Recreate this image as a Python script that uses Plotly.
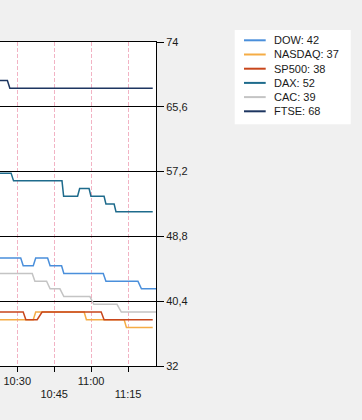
import plotly.graph_objects as go

DAY = "2024-01-02 "

names = ["DOW", "NASDAQ", "SP500", "DAX", "CAC", "FTSE"]
colors = ["#4a8fdb", "#f5ac45", "#c8461b", "#1e6b8c", "#c4c4c4", "#1d3560"]

dow_t = ["10:22:00", "10:31:25", "10:32:25", "10:36:30", "10:37:30", "10:42:20", "10:43:20",
         "10:48:00", "10:48:55", "11:04:55", "11:06:00", "11:19:00", "11:20:25", "11:27:00"]
dow_v = [46, 46, 45, 45, 46, 46, 45, 45, 44, 44, 43, 43, 42, 42]

nasdaq_t = ["10:22:00", "10:36:30", "10:37:30", "10:57:10", "10:58:05", "11:13:25", "11:14:20", "11:25:00"]
nasdaq_v = [38, 38, 39, 39, 38, 38, 37, 37]

sp500_t = ["10:22:00", "10:32:25", "10:33:30", "10:38:05", "10:40:05", "11:04:05", "11:05:15", "11:25:00"]
sp500_v = [39, 39, 38, 38, 39, 39, 38, 38]

dax_t = ["10:22:00", "10:27:30", "10:28:30", "10:48:10", "10:48:50", "10:54:30", "10:55:20",
         "10:59:10", "10:59:55", "11:05:15", "11:06:00", "11:09:20", "11:10:05", "11:25:00"]
dax_v = [57, 57, 56, 56, 54, 54, 55, 55, 54, 54, 53, 53, 52, 52]

cac_t = ["10:22:00", "10:36:05", "10:37:10", "10:41:55", "10:43:20", "10:47:20", "10:48:55",
         "10:59:30", "11:01:05", "11:10:30", "11:12:15", "11:27:00"]
cac_v = [44, 44, 43, 43, 42, 42, 41, 41, 40, 40, 39, 39]

ftse_t = ["10:22:00", "10:26:00", "10:27:00", "11:25:00"]
ftse_v = [69, 69, 68, 68]

series_t = [dow_t, nasdaq_t, sp500_t, dax_t, cac_t, ftse_t]
series_v = [dow_v, nasdaq_v, sp500_v, dax_v, cac_v, ftse_v]

y_ticks = [32, 40.4, 48.8, 57.2, 65.6, 74]
y_ticktext = ["32", "40,4", "48,8", "57,2", "65,6", "74"]
x_ticks_row1 = ["10:30", "11:00"]
x_ticks_row2 = ["10:45", "11:15"]
x_range = ["10:23:00", "11:26:20"]

W, H = 362, 420
ML, MR, MT, MB = 0, 206, 42, 54
PW = W - ML - MR
PH = H - MT - MB

def px_x(px):
    return (px - ML) / PW

def px_y(py):
    return (H - MB - py) / PH

fig = go.Figure()
for n, c, t, v in zip(names, colors, series_t, series_v):
    fig.add_trace(go.Scatter(
        x=[DAY + s for s in t], y=v, mode="lines", name=n,
        line=dict(color=c, width=1.5), showlegend=False, hoverinfo="skip"))

# empty trace for the second tick-label row axis
fig.add_trace(go.Scatter(x=[], y=[], xaxis="x2", showlegend=False))

font = dict(family="Liberation Sans, Arial, sans-serif", size=11, color="#1a1a1a")
all_ticks = sorted(x_ticks_row1 + x_ticks_row2)

fig.update_layout(
    width=W, height=H,
    margin=dict(l=ML, r=MR, t=MT, b=MB, pad=0),
    paper_bgcolor="#f0f0f0", plot_bgcolor="#ffffff",
    font=font,
    showlegend=False,
    xaxis=dict(
        type="date", range=[DAY + x_range[0], DAY + x_range[1]],
        tickvals=[DAY + s for s in all_ticks],
        ticktext=[s if s in x_ticks_row1 else "" for s in all_ticks],
        ticks="outside", ticklen=5, tickcolor="#000", tickwidth=1,
        showgrid=True, gridcolor="#f2b3c4", gridwidth=1, griddash="4px,2px",
        showline=True, linecolor="#000", linewidth=1, mirror=True,
        zeroline=False, tickfont=font,
    ),
    xaxis2=dict(
        type="date", range=[DAY + x_range[0], DAY + x_range[1]],
        overlaying="x", anchor="y", side="bottom",
        tickvals=[DAY + s for s in x_ticks_row2], ticktext=x_ticks_row2,
        ticks="", showgrid=False, showline=False, zeroline=False,
        ticklabelstandoff=20, tickfont=font,
    ),
    yaxis=dict(
        range=[32, 74], side="right",
        tickvals=y_ticks, ticktext=y_ticktext,
        ticks="outside", ticklen=7, tickcolor="#000", tickwidth=1,
        showgrid=True, gridcolor="#000", gridwidth=1,
        showline=True, linecolor="#000", linewidth=1, mirror=False,
        zeroline=False, tickfont=font,
    ),
)

# custom legend box
LX0, LX1, LY0, LY1 = 234.7, 350.7, 30, 124.3
fig.add_shape(type="rect", xref="paper", yref="paper",
              x0=px_x(LX0), x1=px_x(LX1), y0=px_y(LY1), y1=px_y(LY0),
              fillcolor="#ffffff", line=dict(width=0), layer="above")
row_y0, row_dy = 40.3, 14.2
for i, (n, c, v) in enumerate(zip(names, colors, series_v)):
    yy = px_y(row_y0 + i * row_dy)
    fig.add_shape(type="line", xref="paper", yref="paper",
                  x0=px_x(244), x1=px_x(265.7), y0=yy, y1=yy,
                  line=dict(color=c, width=2), layer="above")
    fig.add_annotation(xref="paper", yref="paper", x=px_x(271.5), y=yy,
                       text=f"{n}: {v[-1]}", showarrow=False,
                       xanchor="left", yanchor="middle", font=font)

fig.write_html("out.html")
